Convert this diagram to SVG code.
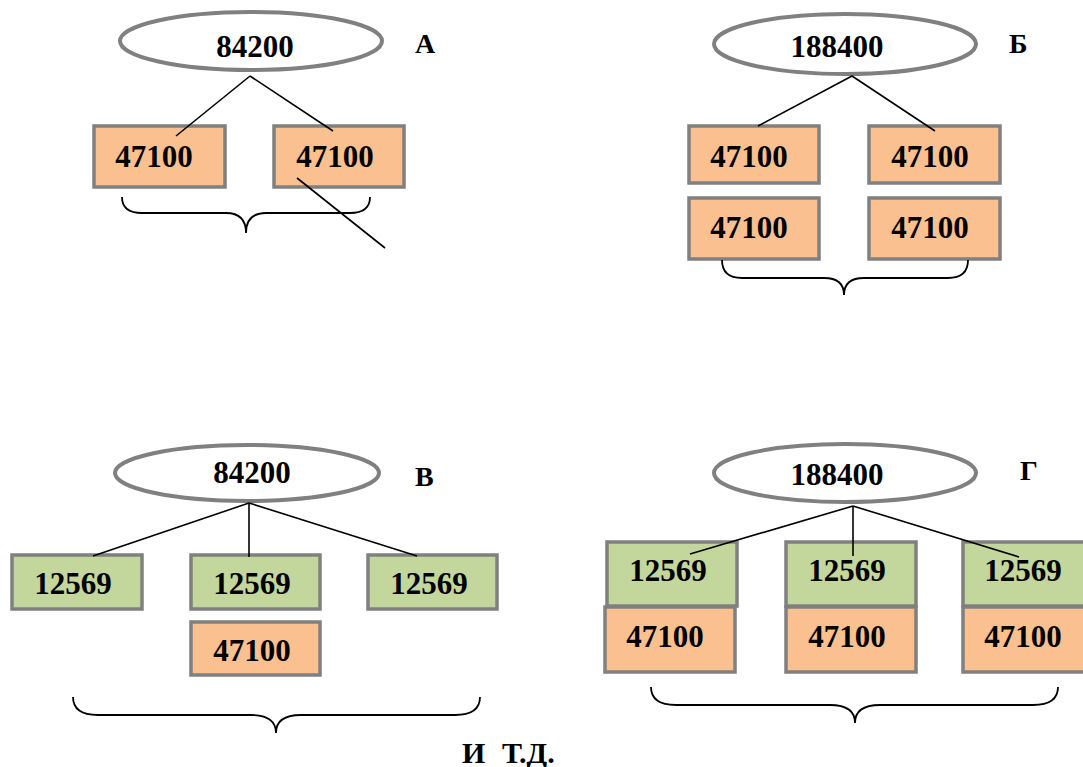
<svg xmlns="http://www.w3.org/2000/svg" width="1083" height="767" viewBox="0 0 1083 767">
<style>
.ell{fill:#fff;stroke:#808080;stroke-width:4}
.or{fill:#fac090;stroke:#808080;stroke-width:3.5}
.gr{fill:#c3d69b;stroke:#808080;stroke-width:3.5}
.t{font-family:"Liberation Serif","Times New Roman",serif;font-weight:bold;font-size:31px;fill:#000;text-anchor:middle}
.lbl{font-family:"Liberation Serif","Times New Roman",serif;font-weight:bold;font-size:28px;fill:#000}
.ln{stroke:#000;stroke-width:1.6;fill:none}
.br{stroke:#000;stroke-width:1.8;fill:none}
</style>
<rect width="1083" height="767" fill="#fff"/>
<g id="panelA">
<g id="a-root"><ellipse class="ell" cx="251" cy="41" rx="131" ry="29"/><text class="t" x="255" y="57">84200</text></g>
<text id="a-label" class="lbl" x="415" y="53">А</text>
<g id="a-box1"><rect class="or" x="94" y="126" width="131" height="61"/><text class="t" x="154" y="167">47100</text></g>
<g id="a-box2"><rect class="or" x="274" y="126" width="130" height="61"/><text class="t" x="335" y="167">47100</text></g>
<path id="a-brace" class="br" d="M122,197 Q122,213 142,213 L226,213 Q246,213 246,233 Q246,213 266,213 L350,213 Q370,213 370,197"/>
</g>
<g id="panelB">
<g id="b-root"><ellipse class="ell" cx="845" cy="44" rx="131" ry="30"/><text class="t" x="837" y="57">188400</text></g>
<text id="b-label" class="lbl" x="1009" y="53">Б</text>
<g id="b-box1"><rect class="or" x="689" y="126" width="130" height="57"/><text class="t" x="749" y="167">47100</text></g>
<g id="b-box2"><rect class="or" x="869" y="126" width="131" height="57"/><text class="t" x="930" y="167">47100</text></g>
<g id="b-box3"><rect class="or" x="689" y="198" width="130" height="61"/><text class="t" x="749" y="238">47100</text></g>
<g id="b-box4"><rect class="or" x="869" y="198" width="131" height="61"/><text class="t" x="930" y="238">47100</text></g>
<path id="b-brace" class="br" d="M722,260 Q722,278 742,278 L824,278 Q844,278 844,295 Q844,278 864,278 L948,278 Q968,278 968,260"/>
</g>
<g id="panelV">
<g id="v-root"><ellipse class="ell" cx="247" cy="473" rx="132" ry="28"/><text class="t" x="252" y="483">84200</text></g>
<text id="v-label" class="lbl" x="415" y="486">В</text>
<g id="v-box1"><rect class="gr" x="12" y="555" width="130" height="54"/><text class="t" x="73" y="594">12569</text></g>
<g id="v-box2"><rect class="gr" x="191" y="555" width="129" height="54"/><text class="t" x="252" y="594">12569</text></g>
<g id="v-box3"><rect class="gr" x="368" y="555" width="129" height="54"/><text class="t" x="429" y="594">12569</text></g>
<g id="v-box4"><rect class="or" x="191" y="622" width="129" height="53"/><text class="t" x="252" y="661">47100</text></g>
<path id="v-brace" class="br" d="M73,697 Q73,715 98,715 L251,715 Q276,715 276,733 Q276,715 301,715 L455,715 Q480,715 480,697"/>
<text id="etc" class="lbl" style="font-size:30px" y="763"><tspan x="462">И</tspan><tspan x="502">Т.Д.</tspan></text>
</g>
<g id="panelG">
<g id="g-root"><ellipse class="ell" cx="845" cy="473" rx="131" ry="29"/><text class="t" x="837" y="485">188400</text></g>
<text id="g-label" class="lbl" x="1020" y="480">Г</text>
<g id="g-box1"><rect class="gr" x="607" y="542" width="130" height="64"/><text class="t" x="668" y="581">12569</text></g>
<g id="g-box2"><rect class="gr" x="786" y="542" width="130" height="64"/><text class="t" x="847" y="581">12569</text></g>
<g id="g-box3"><rect class="gr" x="963" y="542" width="130" height="64"/><text class="t" x="1023" y="581">12569</text></g>
<g id="g-box4"><rect class="or" x="605" y="607" width="130" height="65"/><text class="t" x="665" y="647">47100</text></g>
<g id="g-box5"><rect class="or" x="786" y="607" width="130" height="65"/><text class="t" x="847" y="647">47100</text></g>
<g id="g-box6"><rect class="or" x="963" y="607" width="130" height="65"/><text class="t" x="1023" y="647">47100</text></g>
<path id="g-brace" class="br" d="M651,687 Q651,705 676,705 L830,705 Q855,705 855,723 Q855,705 880,705 L1033,705 Q1058,705 1058,687"/>
</g>
<g id="connectors">
<line class="ln" x1="250" y1="76" x2="176" y2="136"/>
<line class="ln" x1="250" y1="76" x2="333" y2="131"/>
<line class="ln" x1="297" y1="178" x2="385" y2="248"/>
<line class="ln" x1="852" y1="76" x2="758" y2="126"/>
<line class="ln" x1="852" y1="76" x2="935" y2="131"/>
<line class="ln" x1="249" y1="503" x2="93" y2="556"/>
<line class="ln" x1="249" y1="503" x2="249" y2="557"/>
<line class="ln" x1="249" y1="503" x2="417" y2="556"/>
<line class="ln" x1="853" y1="506" x2="690" y2="554"/>
<line class="ln" x1="853" y1="506" x2="853" y2="556"/>
<line class="ln" x1="853" y1="506" x2="1019" y2="557"/>
</g>
</svg>
